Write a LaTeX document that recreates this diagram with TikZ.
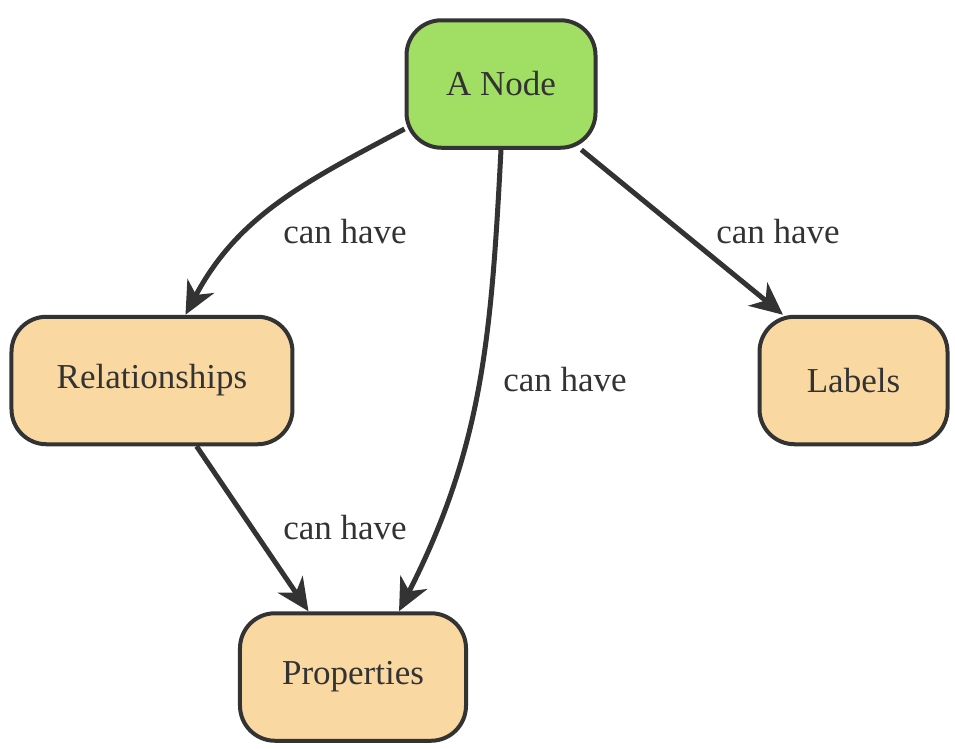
\documentclass[tikz,border=0pt]{standalone}
\usepackage{fontspec}
\setmainfont{Liberation Serif}
\usetikzlibrary{positioning, arrows.meta}

\definecolor{nodegreen}{HTML}{A0DE64}
\definecolor{nodetan}{HTML}{FAD8A2}
\definecolor{linegray}{HTML}{333333}

\begin{document}
\begin{tikzpicture}[x=0.4pt, y=-0.4pt, node distance=66pt,
        box/.style={rectangle, draw=linegray, line width=1.6pt, rounded corners=14pt, minimum height=51pt, font=\fontsize{14}{17}\selectfont, text=linegray},
        link/.style={draw=linegray, line width=2pt, -{Stealth[length=13pt, width=12pt, inset=4pt]}},
        lbl/.style={font=\fontsize{14}{17}\selectfont, text=linegray}]
        \useasboundingbox (0,0) rectangle (955,748);

        %-----Entities-----

        % Node Entity
        \node[box, fill=nodegreen, minimum width=75.6pt] (anode) at (501,84) {A Node};

        % Relationships Entity
        \node[box, fill=nodetan, minimum width=112.4pt, below left=66pt and 44pt of anode] (rel) {Relationships};

        % Labels Entity
        \node[box, fill=nodetan, minimum width=75.2pt, below right=66pt and 64pt of anode] (lab) {Labels};

        % Properties Entity
        \node[box, fill=nodetan, minimum width=90.4pt, below=of rel, xshift=80.4pt] (prop) {Properties};

        %-----Connections-----

        % Connect Node to Relationships
        \draw[link] (anode.205) to[out=208, in=62] (rel.63);
        \node[lbl] (relcan) at (345,232) {can have};

        % Connect Node to Properties
        \draw[link] (anode.south) to[out=-93, in=63] (prop.55);
        \node[lbl] (propcan) at (565,380) {can have};

        % Connect Node to Labels
        \draw[link] (anode) -- (lab.137);
        \node[lbl] (labcan) at (778,232) {can have};

        % Connect Relationships to Properties
        \draw[link] (rel) -- (prop);
        \node[lbl] (relpropcan) at (345,528) {can have};

    \end{tikzpicture}
\end{document}
